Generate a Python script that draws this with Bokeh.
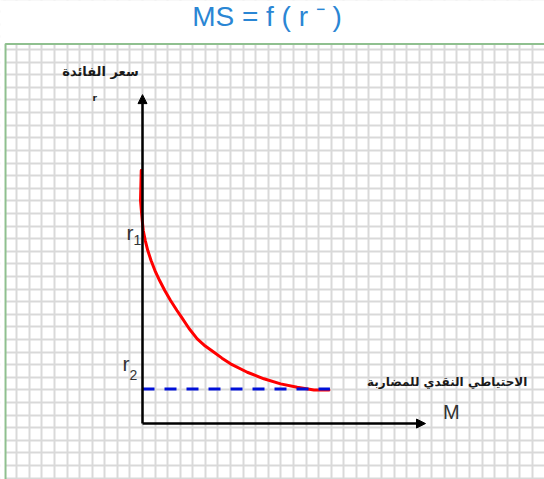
from bokeh.plotting import figure
from bokeh.models import Range1d, Grid, FixedTicker, Arrow, NormalHead, Label, BoxAnnotation
from bokeh.embed import file_html
from bokeh.resources import INLINE

# Speculative money demand curve (units = grid cells, origin at the axes' corner)
m_values = [-0.10, -0.16, -0.02, 0.06, 0.22, 0.42, 0.68, 0.99, 1.36, 1.77, 2.23, 2.74,
            3.10, 3.70, 4.35, 4.99, 5.68, 6.32, 7.00, 8.33, 9.65, 10.98, 12.30, 13.63, 14.82]
r_values = [20.08, 17.70, 16.11, 15.32, 14.52, 13.73, 12.94, 12.14, 11.35, 10.56, 9.76, 8.97,
            8.44, 7.54, 6.72, 6.15, 5.66, 5.19, 4.74, 4.07, 3.55, 3.15, 2.88, 2.67, 2.67]

# Liquidity-trap floor (r2) and its extent along M
trap_m = [0.0, 14.9]
trap_r = [2.75, 2.75]

# Axis extents
r_axis_top = 26.1
m_axis_end = 22.5

title_text = "MS = f ( r \u207b )"
r_axis_name = "سعر الفائدة"
r_symbol = "r"
m_axis_name = "الاحتياطي النقدي للمضاربة"
m_symbol = "M"
level_labels = [("r", "1"), ("r", "2")]

# visible window and the squared sheet inside it
x_lo, x_hi = -11.29, 31.96
y_lo, y_hi = -4.44, 33.57
sheet_left, sheet_top = -10.89, 30.12

p = figure(width=544, height=479, output_backend="svg", toolbar_location=None,
           x_range=Range1d(x_lo, x_hi), y_range=Range1d(y_lo, y_hi),
           x_axis_type=None, y_axis_type=None, min_border=0)
p.outline_line_color = None
p.background_fill_color = "white"
p.border_fill_color = "white"

# squared paper
p.add_layout(Grid(dimension=0, ticker=FixedTicker(ticks=list(range(-12, 33))),
                  grid_line_color="#d9d9d9", grid_line_width=2))
p.add_layout(Grid(dimension=1, ticker=FixedTicker(ticks=[k + 0.675 for k in range(-5, 34)]),
                  grid_line_color="#d9d9d9", grid_line_width=2))
# blank margin above and left of the sheet
p.add_layout(BoxAnnotation(bottom=sheet_top, fill_color="white", fill_alpha=1,
                           line_color=None, level="underlay"))
p.add_layout(BoxAnnotation(right=sheet_left, fill_color="white", fill_alpha=1,
                           line_color=None, level="underlay"))
# green sheet edge
p.line([sheet_left, sheet_left, x_hi], [y_lo, sheet_top, sheet_top],
       line_color="#8fc08f", line_width=2)

# heading
p.add_layout(Label(x=9.9, y=32.30, text=title_text, text_align="center",
                   text_baseline="middle", text_font="Liberation Sans",
                   text_font_size="28px", text_color="#2a86d4"))

# axes as arrows
p.add_layout(Arrow(x_start=0, y_start=0, x_end=0, y_end=r_axis_top,
                   line_width=2.5, line_color="black",
                   end=NormalHead(size=9, fill_color="black", line_color="black", line_width=1)))
p.add_layout(Arrow(x_start=0, y_start=0, x_end=m_axis_end, y_end=0,
                   line_width=2.5, line_color="black",
                   end=NormalHead(size=9, fill_color="black", line_color="black", line_width=1)))

# demand curve and the trap level
p.line(m_values, r_values, line_color="#ff0000", line_width=3, line_join="round", line_cap="round")
p.line(trap_m, trap_r, line_color="#0010d8", line_width=3, line_dash="12 10")

# texts
p.add_layout(Label(x=-3.34, y=27.94, text=r_axis_name, text_align="center", text_baseline="middle",
                   text_font="DejaVu Sans", text_font_style="bold", text_font_size="13px",
                   text_color="#1a1a1a"))
p.add_layout(Label(x=-3.79, y=25.85, text=r_symbol, text_align="center", text_baseline="middle",
                   text_font="DejaVu Sans", text_font_style="bold", text_font_size="9px",
                   text_color="#1a1a1a"))
p.add_layout(Label(x=24.22, y=3.33, text=m_axis_name, text_align="center", text_baseline="middle",
                   text_font="DejaVu Sans", text_font_style="bold", text_font_size="12px",
                   text_color="#1a1a1a"))
p.add_layout(Label(x=24.56, y=0.90, text=m_symbol, text_align="center", text_baseline="middle",
                   text_font="Liberation Sans", text_font_size="20px", text_color="#333333"))

level_pos = [(-0.72, 15.16, 14.59), (-1.03, 4.79, 3.86)]
for (main, sub), (xr, yb, ys) in zip(level_labels, level_pos):
    p.add_layout(Label(x=xr, y=yb, text=main, text_align="right", text_baseline="middle",
                       text_font="Liberation Sans", text_font_size="21px", text_color="#333333"))
    p.add_layout(Label(x=xr, y=ys, text=sub, text_align="left", text_baseline="middle",
                       text_font="Liberation Sans", text_font_size="14px", text_color="#333333"))

open("out.html", "w").write(file_html(p, INLINE))
